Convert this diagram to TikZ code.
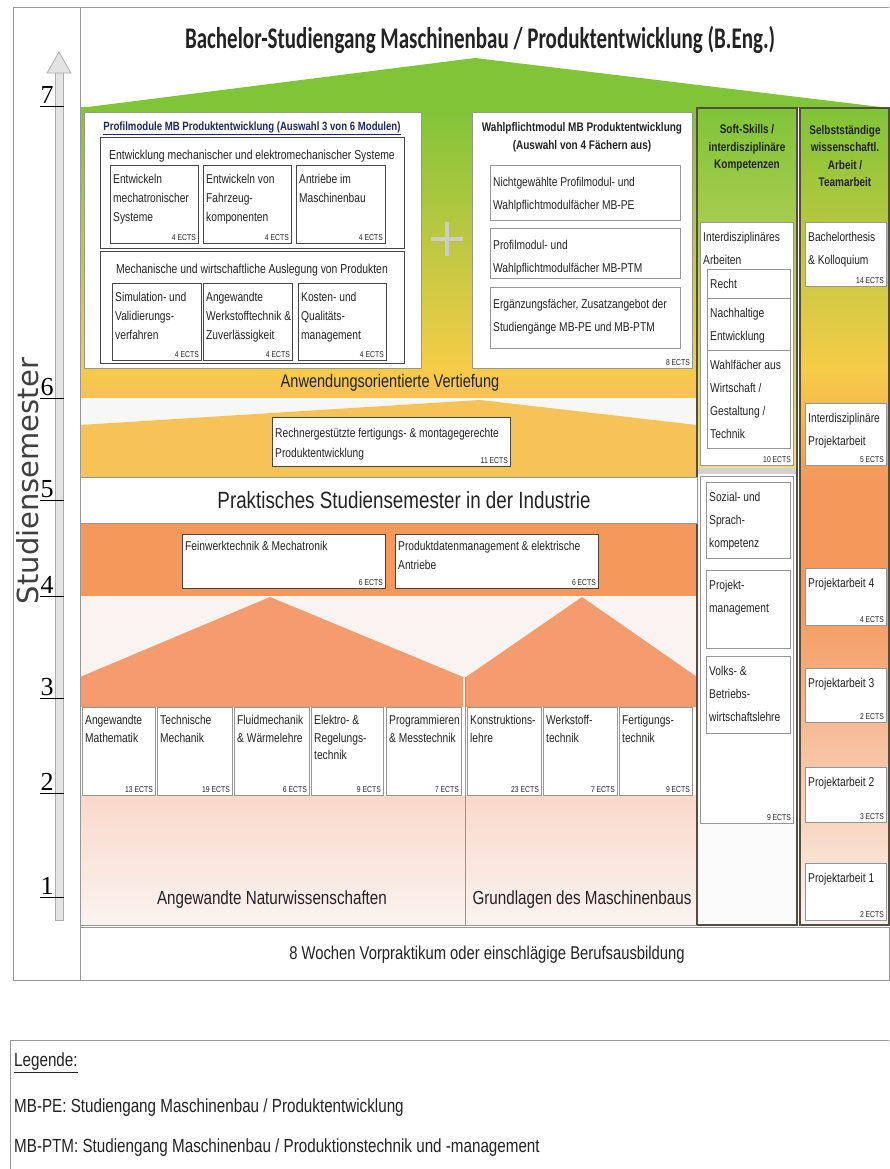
\documentclass[tikz,border=0pt]{standalone}
\usepackage{fontspec}
\setmainfont{Liberation Sans}[FakeStretch=0.8]
\newfontfamily\titlefont{Carlito}[FakeStretch=0.7]
\newfontfamily\numfont{Liberation Serif}
\newfontfamily\axisfont{DejaVu Sans}
\definecolor{grn}{RGB}{128,196,56}
\definecolor{ylw}{RGB}{246,204,72}
\definecolor{yor}{RGB}{247,192,88}
\definecolor{org}{RGB}{244,152,92}
\definecolor{sal}{RGB}{245,155,110}
\definecolor{pnk}{RGB}{250,216,202}
\definecolor{pale}{RGB}{250,243,240}
\definecolor{colb}{RGB}{85,78,60}
\definecolor{framec}{RGB}{150,150,150}
\definecolor{boxc}{RGB}{70,70,70}
\definecolor{navy}{RGB}{30,40,100}
\definecolor{txt}{RGB}{35,35,35}
\newcommand\modul[8][]{%
 \node[modbox,#1,minimum width={(#5-#3)*1pt},minimum height={(#6-#4)*1pt}] (#2) at ({(#3+#5)/2},{(#4+#6)/2}) {};
 \node[modtext,anchor=north west] (#2-t) at ([xshift=1.5pt]#2.north west) {#7};
 \node[ectstext,anchor=south east] (#2-e) at ([xshift=-1pt,yshift=1pt]#2.south east) {#8};
}
\begin{document}
\begin{tikzpicture}[x=1pt,y=-1pt,
 modbox/.style={draw=boxc, fill=white, line width=0.9pt, inner sep=0pt, outer sep=0pt},
 ectstext/.style={font=\fontsize{8.5}{9}\selectfont, inner sep=1pt, text=txt},
 modtext/.style={font=\fontsize{12.8}{19}\selectfont, align=left, inner sep=1.5pt, text=txt, yshift=-8pt},
 bigtext/.style={font=\fontsize{19}{22}\selectfont, text=txt, inner sep=0pt},
 headtext/.style={font=\bfseries\fontsize{12.5}{17.5}\selectfont, align=center, text=txt, inner sep=0pt},
 framel/.style={draw=framec, line width=1pt},
 colframe/.style={draw=colb, line width=1.6pt},
 tick/.style={draw=black, line width=1pt},
 numtext/.style={font=\numfont\fontsize{26}{26}\selectfont, inner sep=0pt, anchor=base},
]
\useasboundingbox (0,0) rectangle (889,1169);
\fill[white] (0,0) rectangle (889,1169);

% ---------- backgrounds of main area ----------
\fill[grn] (80,108) -- (475,58) -- (889,108) -- cycle;
\shade[top color=grn, bottom color=ylw] (80,107.5) rectangle (697,368);
\shade[top color=ylw, bottom color=yor] (80,368) rectangle (697,398);
\fill[white!94!gray] (80,398) rectangle (697,477);
\fill[yor!85!ylw] (80,425) -- (480,400) -- (697,425) -- (697,477) -- (80,477) -- cycle;
\fill[org] (80,523) rectangle (697,596);
\fill[pale] (80,596) rectangle (697,707);
\fill[sal] (80,677) -- (270,597) -- (463,677) -- (463,707) -- (80,707) -- cycle;
\fill[sal] (466,677) -- (582,597) -- (697,677) -- (697,707) -- (466,707) -- cycle;
\shade[top color=pnk, bottom color=pale] (80,795) rectangle (697,925);
\draw[framel] (465,677) -- (465,925);

% ---------- right columns backgrounds ----------
\shade[top color=grn, bottom color=ylw!70!white] (697,108) rectangle (797,470);
\fill[white!96!gray] (697,470) rectangle (797,925);
\fill[gray!35] (698,468) rectangle (796,474);
\shade[top color=grn, bottom color=ylw] (800,108) rectangle (889,370);
\shade[top color=ylw, bottom color=org] (800,370) rectangle (889,480);
\fill[org] (800,480) rectangle (889,600);
\shade[top color=org, bottom color=pale] (800,600) rectangle (889,925);
\draw[colframe] (697,108) rectangle (797,925);
\draw[colframe] (800,108) rectangle (889,925);

% ---------- frame ----------
\draw[framel] (13,8) -- (889,8);
\draw[framel] (13,8) -- (13,980) -- (889,980);
\draw[framel] (80,8) -- (80,980);
\draw[framel] (80,925) -- (697,925);

% ---------- title ----------
\node[font=\titlefont\bfseries\fontsize{30}{32}\selectfont, text=txt, inner sep=0pt] (title) at (480,40) {Bachelor-Studiengang Maschinenbau / Produktentwicklung (B.Eng.)};

% ---------- Profilmodule ----------
\modul[draw=framec]{profil}{84}{112}{421}{368}{}{}
\node[font=\bfseries\fontsize{12}{14}\selectfont, text=navy, inner sep=0pt] (profiltitle) at (252,128) {\underline{Profilmodule MB Produktentwicklung (Auswahl 3 von 6 Modulen)}};
\modul{grpA}{100}{137}{404}{248}{}{}
\node[font=\fontsize{13}{14}\selectfont, text=txt, inner sep=0pt] (grpAtitle) at (252,156) {Entwicklung mechanischer und elektromechanischer Systeme};
\modul{pA1}{110}{165}{198}{243}{Entwickeln\\mechatronischer\\Systeme}{4 ECTS}
\modul{pA2}{203}{165}{291}{243}{Entwickeln von\\Fahrzeug-\\komponenten}{4 ECTS}
\modul{pA3}{296}{165}{385}{243}{Antriebe im\\Maschinenbau}{4 ECTS}
\modul{grpB}{100}{251}{404}{363}{}{}
\node[font=\fontsize{13}{14}\selectfont, text=txt, inner sep=0pt] (grpBtitle) at (252,270) {Mechanische und wirtschaftliche Auslegung von Produkten};
\modul{pB1}{112}{283}{201}{360}{Simulation- und\\Validierungs-\\verfahren}{4 ECTS}
\modul{pB2}{203}{283}{292}{360}{Angewandte\\Werkstofftechnik \&\\Zuverlässigkeit}{4 ECTS}
\modul{pB3}{298}{283}{386}{360}{Kosten- und\\Qualitäts-\\management}{4 ECTS}

% plus sign
\draw[gray!40, line width=4.5pt] (447,222) -- (447,256) (431,239) -- (463,239);

% ---------- Wahlpflicht ----------
\modul[draw=framec]{wahl}{472}{112}{692}{368}{}{8 ECTS}
\node[headtext, font=\bfseries\fontsize{12.5}{18}\selectfont] (wahltitle) at (582,137) {Wahlpflichtmodul MB Produktentwicklung\\(Auswahl von 4 Fächern aus)};
\tikzset{modtext/.style={font=\fontsize{12.8}{22.5}\selectfont, align=left, inner sep=1.5pt, text=txt, yshift=-11pt}}
\modul[draw=framec]{w1}{490}{165}{680}{220}{Nichtgewählte Profilmodul- und\\Wahlpflichtmodulfächer MB-PE}{}
\modul[draw=framec]{w2}{490}{228}{680}{278}{Profilmodul- und\\Wahlpflichtmodulfächer MB-PTM}{}
\modul[draw=framec]{w3}{490}{287}{680}{348}{Ergänzungsfächer, Zusatzangebot der\\Studiengänge MB-PE und MB-PTM}{}

% ---------- Soft skills ----------
\node[headtext] (softhead) at (747,148) {Soft-Skills /\\interdisziplinäre\\Kompetenzen};
\tikzset{modtext/.style={font=\fontsize{12.8}{23}\selectfont, align=left, inner sep=1.5pt, text=txt, yshift=-9pt}}
\modul[draw=framec]{s0}{700}{222}{793}{465}{Interdisziplinäres\\Arbeiten}{10 ECTS}
\modul[draw=framec]{s1}{707}{269}{790}{298}{Recht}{}
\modul[draw=framec]{s2}{707}{298}{790}{350}{Nachhaltige\\Entwicklung}{}
\modul[draw=framec]{s3}{707}{350}{790}{448}{Wahlfächer aus\\Wirtschaft /\\Gestaltung /\\Technik}{}
\modul[draw=framec]{s4}{700}{476}{793}{823}{}{9 ECTS}
\modul[draw=framec]{s5}{706}{482}{790}{558}{Sozial- und\\Sprach-\\kompetenz}{}
\modul[draw=framec]{s6}{706}{570}{790}{648}{Projekt-\\management}{}
\modul[draw=framec]{s7}{706}{656}{790}{733}{Volks- \&\\Betriebs-\\wirtschaftslehre}{}

% ---------- Selbststaendig ----------
\node[headtext] (selbsthead) at (845,156) {Selbstständige\\wissenschaftl.\\Arbeit /\\Teamarbeit};
\modul[draw=framec]{b1}{805}{222}{886}{286}{Bachelorthesis\\\& Kolloquium}{14 ECTS}
\modul[draw=framec]{b2}{805}{403}{886}{465}{Interdisziplinäre\\Projektarbeit}{5 ECTS}
\modul[draw=framec]{b3}{805}{568}{886}{625}{Projektarbeit 4}{4 ECTS}
\modul[draw=framec]{b4}{805}{668}{886}{722}{Projektarbeit 3}{2 ECTS}
\modul[draw=framec]{b5}{805}{767}{886}{822}{Projektarbeit 2}{3 ECTS}
\modul[draw=framec]{b6}{805}{863}{886}{920}{Projektarbeit 1}{2 ECTS}

% ---------- middle ----------
\node[bigtext, font=\fontsize{18.2}{20}\selectfont] (vertiefung) at (390,383) {Anwendungsorientierte Vertiefung};
\tikzset{modtext/.style={font=\fontsize{12.8}{20}\selectfont, align=left, inner sep=1.5pt, text=txt, yshift=-10pt}}
\modul{rech}{272}{417}{510}{466}{Rechnergestützte fertigungs- \& montagegerechte\\Produktentwicklung}{11 ECTS}
\modul[draw=framec, fill=white]{prakt}{80}{477}{697}{523}{}{}
\node[bigtext, font=\fontsize{23.5}{25}\selectfont] (praktext) at (404,500) {Praktisches Studiensemester in der Industrie};
\tikzset{modtext/.style={font=\fontsize{12.8}{19}\selectfont, align=left, inner sep=1.5pt, text=txt, yshift=-6pt}}
\modul{fein}{182}{534}{385}{588}{Feinwerktechnik \& Mechatronik}{6 ECTS}
\modul{prod}{395}{534}{598}{588}{Produktdatenmanagement \& elektrische\\Antriebe}{6 ECTS}

% ---------- basics ----------
\tikzset{modtext/.style={font=\fontsize{12.8}{17.5}\selectfont, align=left, inner sep=1.5pt, text=txt, yshift=-7pt}}
\modul[draw=framec]{g1}{82}{707}{155}{795}{Angewandte\\Mathematik}{13 ECTS}
\modul[draw=framec]{g2}{157}{707}{232}{795}{Technische\\Mechanik}{19 ECTS}
\modul[draw=framec]{g3}{234}{707}{309}{795}{Fluidmechanik\\\& Wärmelehre}{6 ECTS}
\modul[draw=framec]{g4}{311}{707}{383}{795}{Elektro- \&\\Regelungs-\\technik}{9 ECTS}
\modul[draw=framec]{g5}{386}{707}{461}{795}{Programmieren\\\& Messtechnik}{7 ECTS}
\modul[draw=framec]{g6}{467}{707}{541}{795}{Konstruktions-\\lehre}{23 ECTS}
\modul[draw=framec]{g7}{543}{707}{617}{795}{Werkstoff-\\technik}{7 ECTS}
\modul[draw=framec]{g8}{619}{707}{692}{795}{Fertigungs-\\technik}{9 ECTS}
\node[bigtext] (natur) at (272,900) {Angewandte Naturwissenschaften};
\node[bigtext] (grundl) at (582,900) {Grundlagen des Maschinenbaus};
\modul[draw=framec]{vorp}{80}{927}{889}{980}{}{}
\node[bigtext, font=\fontsize{18.5}{21}\selectfont] (vorptext) at (487,955) {8 Wochen Vorpraktikum oder einschlägige Berufsausbildung};

% ---------- axis ----------
\fill[gray!22] (55,72) rectangle (63,920);
\draw[gray!65, line width=0.8pt] (55,72) -- (55,920) -- (63,920) -- (63,72);
\filldraw[fill=gray!22, draw=gray!65, line width=0.8pt] (47,73) -- (59,52) -- (71,73) -- cycle;
\foreach \n/\yy in {7/107,6/398,5/500,4/596,3/698,2/793,1/897}{
  \draw[tick] (40,\yy) -- (64,\yy);
  \node[numtext] (num\n) at (47,\yy-3) {\n};
}
\node[font=\axisfont\fontsize{29}{29}\selectfont, text=black!75, rotate=90, inner sep=0pt] (semlabel) at (28,481) {Studiensemester};

% ---------- legend ----------
\draw[framel] (10,1169) -- (10,1040) -- (889,1040);
\node[font=\fontsize{19}{21}\selectfont, text=txt, anchor=west, inner sep=0pt] (leg0) at (14,1063) {\underline{Legende:}};
\node[font=\fontsize{19}{21}\selectfont, text=txt, anchor=west, inner sep=0pt] (leg1) at (14,1108) {MB-PE: Studiengang Maschinenbau / Produktentwicklung};
\node[font=\fontsize{19}{21}\selectfont, text=txt, anchor=west, inner sep=0pt] (leg2) at (14,1148) {MB-PTM: Studiengang Maschinenbau / Produktionstechnik und -management};
\end{tikzpicture}
\end{document}
